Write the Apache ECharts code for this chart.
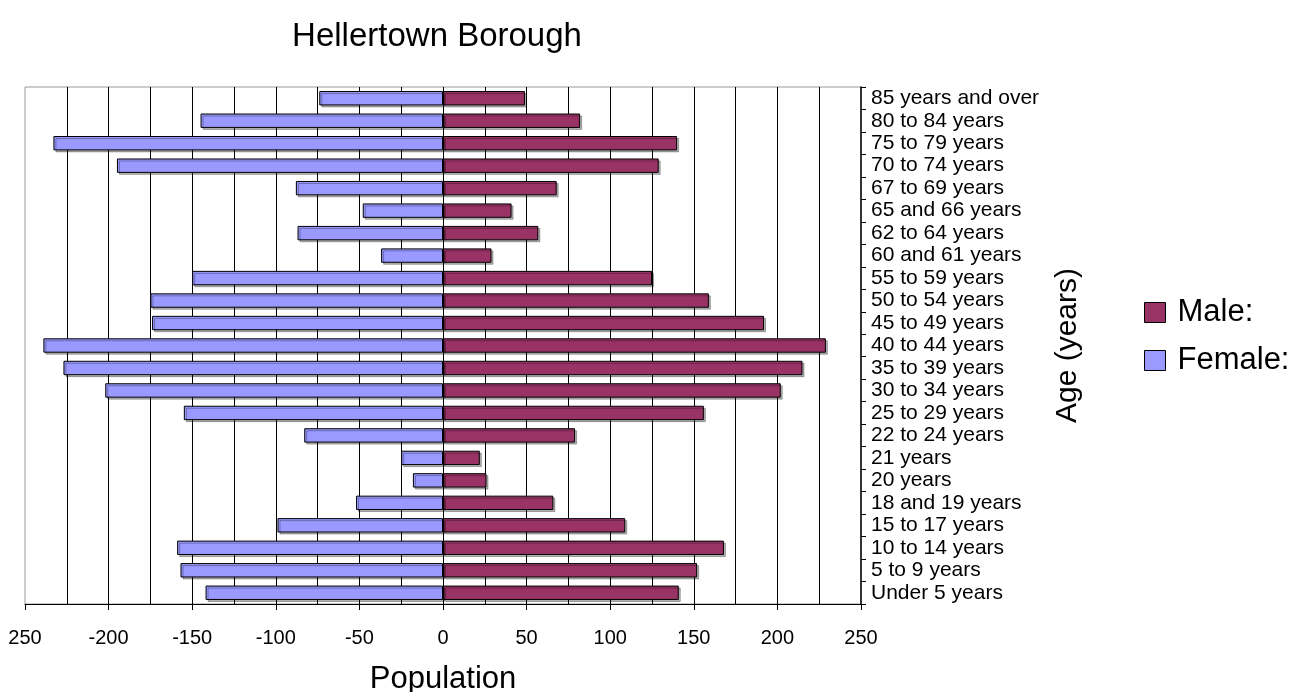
<!DOCTYPE html>
<html>
<head>
<meta charset="utf-8">
<title>Hellertown Borough</title>
<script src="https://cdn.jsdelivr.net/npm/echarts@6/dist/echarts.min.js"></script>
<style>
  html, body { margin: 0; padding: 0; background: #fff; }
  #main { width: 1290px; height: 692px; }
</style>
</head>
<body>
<div id="main"></div>
<script>
// age groups, bottom of the pyramid first
const ageGroups = [
  'Under 5 years', '5 to 9 years', '10 to 14 years', '15 to 17 years',
  '18 and 19 years', '20 years', '21 years', '22 to 24 years',
  '25 to 29 years', '30 to 34 years', '35 to 39 years', '40 to 44 years',
  '45 to 49 years', '50 to 54 years', '55 to 59 years', '60 and 61 years',
  '62 to 64 years', '65 and 66 years', '67 to 69 years', '70 to 74 years',
  '75 to 79 years', '80 to 84 years', '85 years and over'
];
const maleCounts = [141, 152, 168, 109, 66, 26, 22, 79, 156, 202, 215, 229,
  192, 159, 125, 29, 57, 41, 68, 129, 140, 82, 49];
// female side is drawn to the left, so negative
const femaleCounts = [-142, -157, -159, -99, -52, -18, -25, -83, -155, -202, -227, -239,
  -174, -175, -150, -37, -87, -48, -88, -195, -233, -145, -74];

const font = 'Liberation Sans, Arial, sans-serif';

let myChart = echarts.init(document.getElementById('main'));

// excel style: black outline plus a small grey drop shadow
const barOutline = {
  borderColor: '#000',
  borderWidth: 1,
  shadowColor: 'rgba(0,0,0,0.3)',
  shadowOffsetX: 2,
  shadowOffsetY: 2
};

myChart.setOption({
  animation: false,
  title: {
    text: 'Hellertown Borough',
    left: 432,
    top: 15,
    textAlign: 'center',
    textStyle: { fontFamily: font, fontSize: 33, fontWeight: 'normal', color: '#000' }
  },
  legend: {
    orient: 'vertical',
    left: 1139,
    top: 292,
    icon: 'rect',
    itemWidth: 21,
    itemHeight: 20,
    itemGap: 17,
    data: ['Male:', 'Female:'],
    itemStyle: { borderColor: '#000', borderWidth: 1, shadowColor: 'transparent' },
    textStyle: { fontFamily: font, fontSize: 31, color: '#000', lineHeight: 31, padding: [0, 0, 0, 7] }
  },
  grid: {
    left: 25,
    right: 429,
    top: 87,
    bottom: 88,
    // keep the plot exactly where it is, names may sit outside
    outerBoundsMode: 'none',
    show: true,
    borderColor: '#999',
    borderWidth: 1
  },
  xAxis: {
    type: 'value',
    min: -250,
    max: 250,
    interval: 50,
    name: 'Population',
    nameLocation: 'middle',
    nameGap: 60,
    nameTextStyle: { fontFamily: font, fontSize: 31, color: '#000' },
    axisLine: { show: true, onZero: false, lineStyle: { color: '#000', width: 1 } },
    axisTick: { show: true, length: 6, lineStyle: { color: '#000' } },
    axisLabel: {
      fontFamily: font,
      fontSize: 20,
      color: '#000',
      margin: 24,
      // the leftmost label has lost its minus sign in the original
      formatter: v => (v === -250 ? '250' : String(v))
    },
    splitLine: { show: true, showMinLine: false, showMaxLine: false, lineStyle: { color: '#000', width: 1 } },
    minorTick: { show: false, splitNumber: 2 },
    minorSplitLine: { show: true, lineStyle: { color: '#000', width: 1 } }
  },
  yAxis: {
    type: 'category',
    position: 'right',
    data: ageGroups,
    name: 'Age (years)',
    nameLocation: 'middle',
    nameRotate: 90,
    nameGap: 192,
    nameTextStyle: { fontFamily: font, fontSize: 30, color: '#000' },
    axisLine: { show: true, onZero: false, lineStyle: { color: '#000', width: 1.5 } },
    axisTick: { show: true, length: 5, lineStyle: { color: '#000' } },
    axisLabel: { interval: 0, fontFamily: font, fontSize: 21, color: '#000', margin: 10 },
    splitLine: { show: false }
  },
  series: [
    {
      name: 'Male:',
      type: 'bar',
      stack: 'pop',
      data: maleCounts,
      barCategoryGap: '36%',
      itemStyle: Object.assign({ color: '#993366' }, barOutline)
    },
    {
      name: 'Female:',
      type: 'bar',
      stack: 'pop',
      data: femaleCounts,
      barCategoryGap: '36%',
      itemStyle: Object.assign({ color: '#9999FF' }, barOutline)
    }
  ]
});
</script>
</body>
</html>
